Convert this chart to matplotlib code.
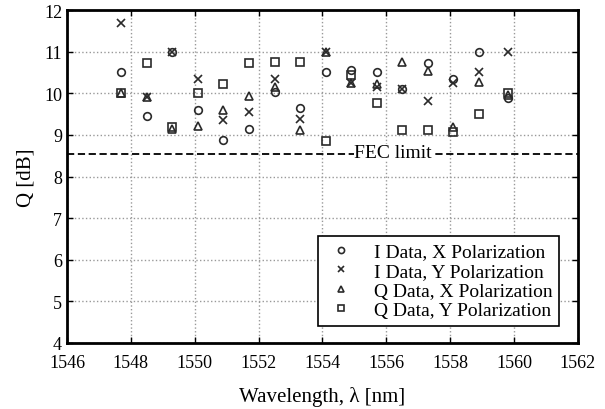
import matplotlib
matplotlib.use("Agg")
import matplotlib.pyplot as plt

# channel wavelengths (nm), 100 GHz grid
wl = [1547.7, 1548.5, 1549.3, 1550.1, 1550.9, 1551.7, 1552.5, 1553.3,
      1554.1, 1554.9, 1555.7, 1556.5, 1557.3, 1558.1, 1558.9, 1559.8]

# Q factor [dB]
q_ix = [10.5, 9.45, 11.0, 9.6, 8.87, 9.15, 10.02, 9.65,
        10.52, 10.55, 10.52, 10.1, 10.72, 10.35, 11.0, 9.88]
q_iy = [11.7, 9.9, 11.0, 10.35, 9.35, 9.55, 10.35, 9.38,
        11.0, 10.25, 10.15, 10.1, 9.82, 10.25, 10.5, 11.0]
q_qx = [10.0, 9.9, 9.15, 9.22, 9.6, 9.93, 10.15, 9.13,
        11.0, 10.25, 10.22, 10.75, 10.53, 9.2, 10.27, 9.95]
q_qy = [10.0, 10.72, 9.2, 10.0, 10.22, 10.72, 10.75, 10.75,
        8.85, 10.45, 9.76, 9.13, 9.13, 9.08, 9.5, 10.0]

fec_limit = 8.53

series = [
    (q_ix, "o", "I Data, X Polarization"),
    (q_iy, "x", "I Data, Y Polarization"),
    (q_qx, "^", "Q Data, X Polarization"),
    (q_qy, "s", "Q Data, Y Polarization"),
]

plt.rcParams["font.family"] = ["Liberation Serif", "DejaVu Serif"]
plt.rcParams["font.size"] = 13

fig = plt.figure(figsize=(6.05, 4.1), dpi=100)
ax = fig.add_axes([0.1107, 0.161, 0.8446, 0.812])

for y, m, lab in series:
    ax.plot(wl, y, ls="none", marker=m, ms=5.5, mfc="none", mec="#2a2a2a",
            mew=1.2, label=lab)

ax.axhline(fec_limit, color="black", ls="--", lw=1.3, dashes=(4, 2))
ax.text(1556.2, fec_limit + 0.05, "FEC limit", ha="center", va="center",
        fontsize=14, bbox=dict(fc="white", ec="none", pad=0.3))

ax.set_xlim(1546, 1562)
ax.set_ylim(4, 12)
ax.set_xticks(range(1546, 1563, 2))
ax.set_yticks(range(4, 13))
ax.grid(True, ls=":", color="#999999", lw=1)
ax.tick_params(direction="in", top=True, right=True, length=4, width=1,
               labelsize=13)
ax.tick_params(axis="x", pad=8)
for s in ax.spines.values():
    s.set_linewidth(2)

ax.set_xlabel("Wavelength, \u03bb [nm]", fontsize=15, labelpad=11)
ax.set_ylabel("Q [dB]", fontsize=15, labelpad=6)

leg = ax.legend(loc="lower right", fontsize=14, fancybox=False,
                edgecolor="black", framealpha=1, handletextpad=0.9,
                handlelength=1.6, borderpad=0.35, labelspacing=0.1,
                borderaxespad=0, markerscale=0.8,
                bbox_to_anchor=(0.963, 0.051))
leg.get_frame().set_linewidth(1.2)

fig.savefig("out.png", dpi=100)
